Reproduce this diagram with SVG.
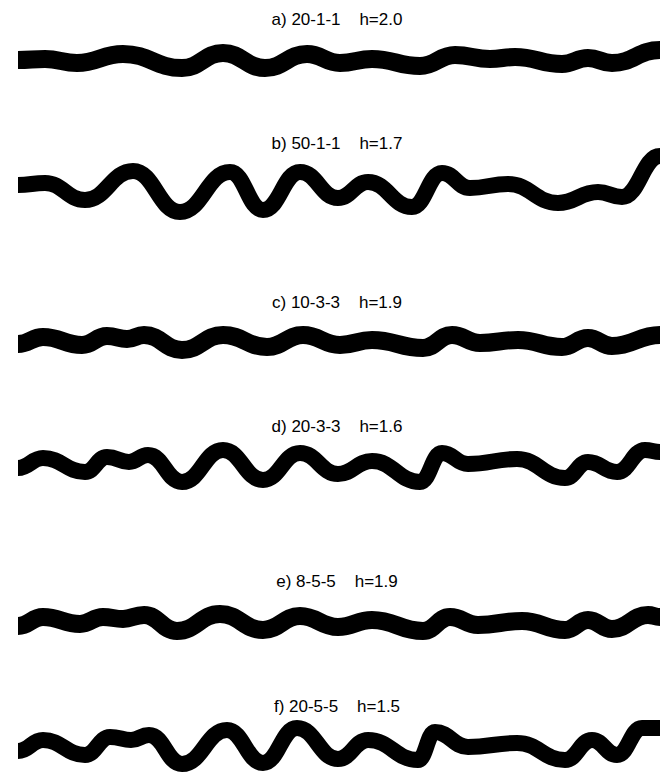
<svg xmlns="http://www.w3.org/2000/svg" width="670" height="776" viewBox="0 0 670 776">
<style>
.lbl{font-family:"Liberation Sans",Arial,sans-serif;font-size:17px;fill:#000;text-anchor:middle;white-space:pre}
.w{fill:none;stroke:#000;stroke-linecap:butt;stroke-linejoin:round}
.t{stroke-width:18}
.n{stroke-width:16}
</style>
<rect width="670" height="776" fill="#fff"/>
<g id="panel-a">
<text class="lbl" x="337" y="25" xml:space="preserve">a) 20-1-1    h=2.0</text>
<path class="w t" d="M18,60 C30.2,60 32.9,59 45,59 C59.4,59 62.6,63 77,63 C97.7,63 102.3,54 123,54 C149.6,54 155.5,68 182,68 C200.5,68 204.6,53 223,53 C241.9,53 246.1,68 265,68 C283.9,68 288.1,54 307,54 C321.9,54 325.2,63 340,63 C354.4,63 357.6,59 372,59 C393.6,59 398.4,66 420,66 C435.8,66 439.3,55 455,55 C470.8,55 474.3,59 490,59 C501.3,59 503.8,57 515,57 C536.2,57 540.9,64 562,64 C573.7,64 576.3,58 588,58 C598.8,58 601.2,63 612,63 C633.6,63 638.4,50 660,50"/>
</g>
<g id="panel-b">
<text class="lbl" x="337" y="149" xml:space="preserve">b) 50-1-1    h=1.7</text>
<path class="w n" d="M18,185 C30.2,185 32.9,183 45,183 C63,183 67,200 85,200 C106.6,200 111.4,171 133,171 C154.2,171 158.9,212 180,212 C202.5,212 207.5,172 230,172 C244.9,172 248.2,210 263,210 C279.7,210 283.4,172 300,172 C317.1,172 320.9,198 338,198 C351.5,198 354.5,182 368,182 C387.8,182 392.2,207 412,207 C425.5,207 428.5,173 442,173 C454.6,173 457.4,188 470,188 C487.1,188 490.9,184 508,184 C530.5,184 535.5,203 558,203 C576,203 580,192 598,192 C608.8,192 611.2,197 622,197 C639.1,197 642.9,156 660,156"/>
</g>
<g id="panel-c">
<text class="lbl" x="337" y="308" xml:space="preserve">c) 10-3-3    h=1.9</text>
<path class="w t" d="M18,344 C29.3,344 31.8,337 43,337 C60.6,337 64.5,345 82,345 C93.3,345 95.8,336 107,336 C116.5,336 118.6,339 127,339 C134.8,339 136.3,335 144,335 C161.6,335 164.5,350 182,350 C200.5,350 204.6,335 223,335 C242.8,335 247.2,347 267,347 C283.2,347 286.8,335 303,335 C319.7,335 323.4,345 340,345 C354.4,345 357.6,340 372,340 C395,340 400,348 423,348 C436.1,348 439,335 452,335 C464.6,335 467.4,343 480,343 C497.1,343 500.9,340 518,340 C537.8,340 542.2,347 562,347 C573.7,347 576.3,338 588,338 C598.8,338 601.2,346 612,346 C633.6,346 638.4,335 660,335"/>
</g>
<g id="panel-d">
<text class="lbl" x="337" y="432" xml:space="preserve">d) 20-3-3    h=1.6</text>
<path class="w n" d="M18,468 C29.3,468 31.8,458 43,458 C61.9,458 66.1,472 85,472 C94.9,472 97.1,457 107,457 C117.4,457 119.7,462 129,462 C137.7,462 139.4,455 148,455 C163.8,455 166.3,482 182,482 C200.5,482 204.6,450 223,450 C241,450 245,480 263,480 C279.7,480 283.4,453 300,453 C317.1,453 320.9,474 338,474 C353.3,474 356.7,461 372,461 C393.6,461 398.4,482 420,482 C429.9,482 432.1,453 442,453 C453.7,453 456.3,464 468,464 C490,464 495,459 517,459 C538.6,459 543.4,478 565,478 C575.4,478 577.7,462 588,462 C601.1,462 603.9,472 617,472 C629.6,472 632.4,450 645,450 C651.8,450 653.3,452 660,452"/>
</g>
<g id="panel-e">
<text class="lbl" x="337" y="587" xml:space="preserve">e) 8-5-5    h=1.9</text>
<path class="w t" d="M18,626 C29.3,626 31.8,617 43,617 C59.7,617 63.4,624 80,624 C90.4,624 92.7,617 103,617 C112,617 114,619 123,619 C132,619 134,615 144,615 C159.3,615 161.7,631 177,631 C196.4,631 200.7,614 220,614 C239.4,614 243.7,630 263,630 C279.7,630 283.4,616 300,616 C317.1,616 320.9,627 338,627 C353.3,627 356.7,620 372,620 C395,620 400,631 423,631 C435.2,631 437.9,617 450,617 C462.6,617 465.4,625 478,625 C497.8,625 502.2,621 522,621 C541.4,621 545.7,630 565,630 C575.4,630 577.7,620 588,620 C598.8,620 601.2,629 612,629 C628.2,629 631.8,615 648,615 C653.4,615 654.6,617 660,617"/>
</g>
<g id="panel-f">
<text class="lbl" x="337" y="712" xml:space="preserve">f) 20-5-5    h=1.5</text>
<path class="w n" d="M18,751 C29.3,751 31.8,740 43,740 C61.9,740 66.1,755 85,755 C96.3,755 98.8,737 110,737 C119.9,737 122.1,740 131,740 C139.2,740 140.8,735 149,735 C164.3,735 166.7,764 182,764 C202.3,764 206.8,730 227,730 C243.2,730 246.8,763 263,763 C278.3,763 281.7,728 297,728 C315.5,728 319.6,759 338,759 C351.5,759 354.5,740 368,740 C390.5,740 395.5,760 418,760 C425.7,760 427.4,732 435,732 C449.9,732 453.2,747 468,747 C490,747 495,743 517,743 C538.6,743 543.4,760 565,760 C577.2,760 579.9,740 592,740 C603.3,740 605.8,755 617,755 C628.3,755 630.8,728 642,728 C650,728 652,728 660,728"/>
</g>
</svg>
